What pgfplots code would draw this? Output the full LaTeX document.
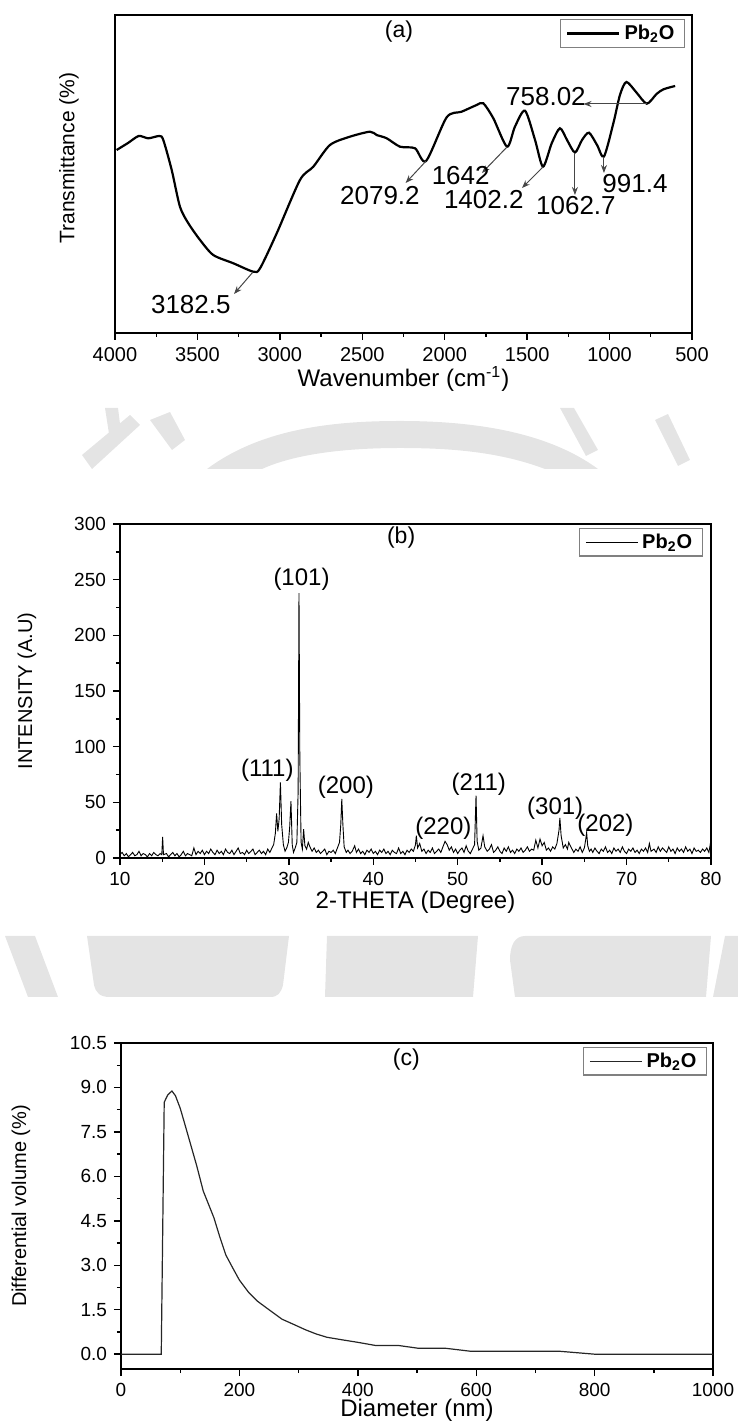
\documentclass[border=0pt]{standalone}
\usepackage{fontspec}
\setmainfont{Liberation Sans}
\usepackage{pgfplots}
\pgfplotsset{compat=1.18}
\usetikzlibrary{arrows.meta}
\definecolor{wm}{RGB}{228,228,228}
\definecolor{arr}{RGB}{70,70,70}
\tikzset{lab/.style={font=\fontsize{12}{14}\selectfont}}

\pgfplotsset{
  panel/.style={
    scale only axis, anchor=south west,
    axis line style={line width=0.8pt},
    tick align=outside, xtick pos=bottom, ytick pos=left,
    major tick length=3.5pt, minor tick length=2pt,
    every tick/.style={black, line width=0.7pt},
    tick label style={font=\fontsize{9.5}{11}\selectfont},
    /pgf/number format/assume math mode=true,
    /pgf/number format/1000 sep={},
    legend cell align=left,
    legend image code/.code={\draw[##1] (0pt,0pt) -- (26pt,0pt);},
    legend style={anchor=north east, draw=gray, line width=0.6pt,
      inner xsep=3pt, inner ysep=0.5pt,
      font=\bfseries\fontsize{10}{11}\selectfont},
  },
}

\begin{document}
\begin{tikzpicture}
\useasboundingbox (0,0) rectangle (369pt,712.5pt);

% faint watermark in the background
\begin{scope}[x=0.5pt,y=-0.5pt,yshift=712.5pt]
\fill[wm] (207,469) .. controls (262,428) and (335,421) .. (400,421) .. controls (468,421) and (545,430) .. (598,469) -- (545,469) .. controls (500,452) and (452,448) .. (400,448) .. controls (345,448) and (295,454) .. (262,469) -- cycle;
\fill[wm] (82,455) -- (92,469) -- (140,425) -- (130,415) -- cycle;
\fill[wm] (105,408) -- (118,408) -- (122,440) -- (110,440) -- cycle;
\fill[wm] (150,420) -- (170,412) -- (185,440) -- (172,450) -- cycle;
\fill[wm] (560,408) -- (574,408) -- (598,450) -- (586,456) -- cycle;
\fill[wm] (655,420) -- (668,414) -- (690,460) -- (678,466) -- cycle;
\fill[wm] (5,936) -- (35,936) -- (58,997) -- (28,997) -- cycle;
\fill[wm] (87,936) -- (289,936) -- (283,985) .. controls (281,993) and (278,997) .. (270,997) -- (110,997) .. controls (100,997) and (96,993) .. (94,985) -- cycle;
\fill[wm] (327,936) -- (478,936) -- (473,997) -- (325,997) -- cycle;
\fill[wm] (525,936) -- (711,936) -- (706,997) -- (515,997) -- (510,960) .. controls (510,945) and (515,936) .. (525,936) -- cycle;
\fill[wm] (725,936) -- (738,936) -- (738,997) -- (713,997) -- cycle;
\end{scope}

% ---------------- (a) FTIR ----------------
\begin{axis}[panel, at={(57.5pt,546pt)}, width=288.5pt, height=159pt,
  x dir=reverse, xmin=500, xmax=4000, ymin=0, ymax=318,
  ytick=\empty, xtick={500,1000,...,4000}, minor x tick num=1,
  tick label style={font=\fontsize{10}{12}\selectfont},
  xlabel={Wavenumber (cm\textsuperscript{-1})},
  ylabel={Transmittance (\%)},
  x label style={lab, at={([yshift=-23pt]axis description cs:0.5,0)}, anchor=center},
  y label style={font=\fontsize{10.5}{12}\selectfont, at={([xshift=-23pt]axis description cs:0,0.55)}, anchor=center},
  legend style={at={(0.988,0.987)}},
  clip=false]
\addplot[black, line width=1.1pt, smooth, tension=0.45] table {
3990 183
3921 190
3856 197
3798 194.7
3731 197
3707 193
3656 163
3606 126.3
3555 109.7
3484 93
3404 78
3282 69.7
3161 61.3
3120 64.7
3019 99.7
2878 153
2797 166.3
2696 188
2575 196.3
2453 201.3
2413 198
2352 194.7
2271 186.3
2180 184.7
2113 172
1988 215.7
1897 221.3
1806 228
1766 229.7
1705 214.7
1622 186.3
1574 206.3
1513 222.3
1452 193
1404 166.3
1351 189.7
1301 204.7
1258 193
1210 180.5
1167 193
1125 200.3
1076 188
1034 176.5
977 209.7
937 238
898 251
837 240.5
774 229.3
715 239
673 243.7
602 247
};
\addlegendentry{Pb\textsubscript{2}O}
\node[font=\fontsize{11.5}{13}\selectfont] at (axis cs:2277,301) {(a)};
\begin{scope}[arr, line width=0.5pt, -{Stealth[length=4pt,width=3pt]}]
\draw (axis cs:3163,61) -- (axis cs:3278,39);
\draw (axis cs:2113,172) -- (axis cs:2237,150);
\draw (axis cs:1622,186) -- (axis cs:1774,160);
\draw (axis cs:1404,166) -- (axis cs:1531,145);
\draw (axis cs:1210,180) -- (axis cs:1210,138);
\draw (axis cs:1034,176) -- (axis cs:1034,160);
\draw (axis cs:773,229) -- (axis cs:1158,229);
\end{scope}
\begin{scope}[every node/.style={font=\fontsize{13}{15}\selectfont}]
\node at (axis cs:3540,28) {3182.5};
\node at (axis cs:2393,137) {2079.2};
\node at (axis cs:1903,157) {1642};
\node at (axis cs:1763,133) {1402.2};
\node at (axis cs:1204,127) {1062.7};
\node at (axis cs:846,149) {991.4};
\node at (axis cs:1386,236) {758.02};
\end{scope}
\end{axis}

% ---------------- (b) XRD ----------------
\begin{axis}[panel, at={(60pt,283.5pt)}, width=295.5pt, height=167pt,
  xmin=10, xmax=80, ymin=0, ymax=300,
  xtick={10,20,...,80}, ytick={0,50,...,300},
  minor x tick num=1, minor y tick num=1,
  xlabel={2-THETA (Degree)}, ylabel={INTENSITY (A.U)},
  x label style={lab, at={([yshift=-22pt]axis description cs:0.5,0)}, anchor=center},
  y label style={font=\fontsize{10}{12}\selectfont, at={([xshift=-46.5pt]axis description cs:0,0.5)}, anchor=center},
  legend style={at={(0.986,0.988)}},
  clip=false]
\addplot[black, line width=0.45pt] table {
10.00 3
10.25 5
10.50 2
10.75 4
11.00 1
11.25 3
11.50 5
11.75 2
12.00 3
12.25 6
12.50 2
12.75 4
13.00 3
13.25 1
13.50 4
13.75 2
14.00 5
14.25 3
14.50 2
14.75 4
14.95 3
15.05 19
15.15 3
15.50 4
15.75 1
16.00 3
16.25 5
16.50 2
16.75 4
17.00 1
17.25 3
17.50 6
17.75 2
18.00 4
18.25 3
18.50 2
18.75 9
19.00 3
19.25 6
19.50 4
19.75 7
20.00 3
20.25 6
20.50 4
20.75 8
21.00 5
21.25 3
21.50 7
21.75 4
22.00 6
22.25 3
22.50 8
22.75 5
23.00 4
23.25 7
23.50 3
23.75 6
24.00 9
24.25 4
24.50 5
24.75 3
25.00 7
25.25 4
25.50 6
25.75 8
26.00 3
26.25 5
26.50 7
26.75 4
27.00 6
27.25 3
27.50 8
27.75 5
28.00 9
28.20 12
28.40 22
28.55 40
28.70 24
28.85 35
29.00 68
29.15 30
29.35 12
29.55 6
29.75 9
29.95 14
30.10 28
30.25 51
30.40 12
30.55 5
30.75 9
30.95 14
31.10 60
31.20 238
31.30 90
31.45 14
31.60 8
31.75 26
31.90 11
32.10 8
32.30 14
32.50 10
32.75 6
33.00 9
33.25 5
33.50 7
33.75 4
34.00 6
34.25 8
34.50 3
34.75 6
35.00 5
35.25 7
35.50 4
35.75 9
36.00 14
36.15 30
36.27 53
36.40 30
36.55 10
36.80 5
37.00 7
37.25 4
37.50 6
37.80 11
38.00 5
38.25 8
38.50 4
38.75 6
39.00 3
39.25 7
39.50 5
39.75 8
40.00 4
40.25 6
40.50 3
40.75 7
41.00 5
41.25 8
41.50 4
41.75 6
42.00 3
42.25 7
42.50 5
42.75 4
43.00 9
43.25 4
43.50 6
43.75 3
44.00 7
44.25 5
44.50 8
44.75 6
45.00 12
45.10 20
45.25 9
45.50 13
45.75 6
46.00 8
46.25 4
46.50 7
46.75 5
47.00 9
47.25 4
47.50 6
47.75 8
48.00 5
48.25 10
48.50 15
48.75 12
49.00 7
49.25 10
49.50 5
49.75 8
50.00 4
50.25 7
50.50 9
50.75 5
51.00 11
51.25 6
51.50 4
51.75 8
52.00 12
52.17 56
52.30 15
52.50 7
52.75 9
53.00 20
53.20 10
53.50 6
53.75 8
54.00 12
54.25 5
54.50 7
54.75 10
55.00 6
55.25 4
55.50 9
55.75 6
56.00 10
56.25 5
56.50 7
56.75 4
57.00 8
57.25 6
57.50 9
57.75 5
58.00 7
58.25 10
58.50 6
58.75 8
59.00 7
59.25 16
59.50 9
59.75 17
60.00 11
60.25 14
60.50 7
60.75 9
61.00 6
61.25 10
61.50 8
61.75 13
62.00 25
62.10 36
62.25 20
62.50 9
62.75 12
63.00 8
63.15 14
63.40 10
63.75 5
64.00 8
64.25 6
64.50 10
64.75 5
65.00 9
65.15 16
65.27 23
65.40 11
65.60 6
65.80 8
66.00 5
66.25 9
66.50 6
66.75 4
67.00 8
67.25 6
67.50 10
67.75 5
68.00 7
68.25 4
68.50 9
68.75 6
69.00 8
69.25 5
69.50 10
69.75 6
70.00 4
70.25 8
70.50 6
70.75 9
71.00 5
71.25 7
71.50 4
71.75 8
72.00 6
72.25 9
72.50 5
72.70 13
72.90 6
73.25 8
73.50 5
73.75 10
74.00 6
74.25 9
74.50 7
74.75 5
75.00 10
75.25 6
75.50 8
75.75 4
76.00 9
76.25 6
76.50 8
76.75 5
77.00 10
77.25 6
77.50 8
77.75 4
78.00 9
78.25 6
78.50 7
78.75 5
79.00 8
79.25 6
79.50 9
79.75 5
79.95 14
80.00 8
};
\addlegendentry{Pb\textsubscript{2}O}
\node[font=\fontsize{11.5}{13}\selectfont] at (axis cs:43.3,288) {(b)};
\begin{scope}[every node/.style={font=\fontsize{12}{14}\selectfont}]
\node at (axis cs:27.45,79) {(111)};
\node at (axis cs:31.5,250) {(101)};
\node at (axis cs:36.75,63.5) {(200)};
\node at (axis cs:48.3,27) {(220)};
\node at (axis cs:52.5,66.5) {(211)};
\node at (axis cs:61.55,44.7) {(301)};
\node at (axis cs:67.5,29.6) {(202)};
\end{scope}
\end{axis}

% ---------------- (c) PSD ----------------
\begin{axis}[panel, at={(60.5pt,28pt)}, width=296pt, height=163pt,
  xmin=0, xmax=1000, ymin=-0.5, ymax=10.5,
  xtick={0,200,...,1000}, ytick={0,1.5,3,4.5,6,7.5,9,10.5},
  minor x tick num=1, minor y tick num=1,
  yticklabel style={/pgf/number format/.cd, fixed, fixed zerofill, precision=1},
  xlabel={Diameter (nm)}, ylabel={Differential volume (\%)},
  x label style={lab, at={([yshift=-20.5pt]axis description cs:0.5,0)}, anchor=center},
  y label style={font=\fontsize{10}{12}\selectfont, at={([xshift=-50pt]axis description cs:0,0.5)}, anchor=center},
  legend style={at={(0.99,0.988)}},
  clip=false]
\addplot[black!85, line width=0.6pt] table {
0 0
68 0
73 8.5
79 8.75
86 8.88
92 8.72
100 8.3
108 7.75
118 7.05
128 6.35
139 5.5
148 5.05
157 4.6
167 3.95
177 3.35
189 2.9
200 2.5
215 2.1
231 1.78
250 1.5
272 1.18
290 1.02
312 0.82
330 0.68
348 0.57
375 0.48
400 0.40
431 0.29
470 0.29
502 0.2
548 0.2
590 0.1
740 0.1
800 0
1000 0
};
\addlegendentry{Pb\textsubscript{2}O}
\node[font=\fontsize{11.5}{13}\selectfont] at (axis cs:482,9.95) {(c)};
\end{axis}
\end{tikzpicture}
\end{document}
